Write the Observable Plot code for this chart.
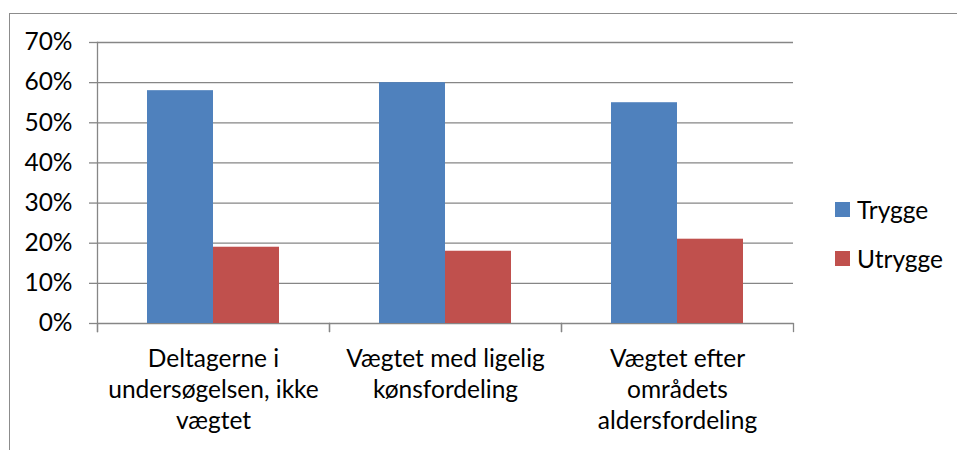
<!DOCTYPE html>
<html>
<head>
<meta charset="utf-8">
<script src="https://cdn.jsdelivr.net/npm/d3@7"></script>
<script src="https://cdn.jsdelivr.net/npm/@observablehq/plot@0.6"></script>
<style>
  html, body { margin: 0; padding: 0; background: #fff; }
  #wrap { position: relative; width: 957px; height: 450px; overflow: hidden; font-family: Lato, "Open Sans", sans-serif; }
  #border { position: absolute; left: 9px; top: 13px; width: 1000px; height: 500px; border-left: 1.5px solid #8c8c8c; border-top: 1.5px solid #8c8c8c; }
  #chart { position: absolute; left: 0; top: 0; }
  #legend { position: absolute; left: 835px; top: 199px; font-size: 24.5px; color: #000; }
  .item { display: flex; align-items: center; height: 20px; margin-bottom: 29px; }
  .sw { width: 15px; height: 15px; margin-right: 7px; flex: none; }
</style>
</head>
<body>
<div id="wrap">
  <div id="border"></div>
  <div id="chart"></div>
  <div id="legend"></div>
</div>
<script>
const categories = [
  "Deltagerne i\nundersøgelsen, ikke\nvægtet",
  "Vægtet med ligelig\nkønsfordeling",
  "Vægtet efter\nområdets\naldersfordeling"
];
const series = ["Trygge", "Utrygge"];
const trygge = [0.58, 0.60, 0.55];
const utrygge = [0.19, 0.18, 0.21];
const colors = ["#4F81BD", "#C0504D"];
const yTicks = [0, 0.1, 0.2, 0.3, 0.4, 0.5, 0.6, 0.7];

const data = [];
categories.forEach((c, i) => {
  data.push({category: c, series: series[0], value: trygge[i]});
  data.push({category: c, series: series[1], value: utrygge[i]});
});

const gray = "#868686";

const chart = Plot.plot({
  width: 957,
  height: 450,
  marginTop: 42,
  marginBottom: 127,
  marginLeft: 97,
  marginRight: 164,
  style: {fontFamily: "Lato, 'Open Sans', sans-serif", fontSize: "24.5px", color: "#000", background: "transparent", overflow: "visible"},
  fx: {domain: categories, padding: 0, axis: null},
  x: {domain: series, paddingInner: 0, paddingOuter: 0.7576, round: false, axis: null},
  y: {domain: [0, 0.7], axis: null},
  color: {domain: series, range: colors},
  marks: [
    Plot.gridY(yTicks, {stroke: gray, strokeOpacity: 1, strokeWidth: 1.3}),
    Plot.axisY(yTicks, {anchor: "left", tickSize: 8, tickPadding: 17, stroke: gray, strokeWidth: 1.3, fill: "#000",
      tickFormat: d => Math.round(d * 100) + "%", label: null}),
    Plot.barY(data, {fx: "category", x: "series", y: "value", fill: "series"}),
    Plot.frame({anchor: "left", facet: "super", insetBottom: -8, stroke: gray, strokeWidth: 1.3}),
    Plot.frame({anchor: "left", insetTop: 281, insetBottom: -8, stroke: gray, strokeWidth: 1.3}),
    Plot.frame({anchor: "right", insetTop: 281, insetBottom: -8, stroke: gray, strokeWidth: 1.3}),
    Plot.axisFx({anchor: "bottom", tickSize: 0, tickPadding: 22, lineHeight: 1.26, fill: "#000", label: null})
  ]
});
document.getElementById("chart").appendChild(chart);

const legend = document.getElementById("legend");
series.forEach((s, i) => {
  const item = document.createElement("div");
  item.className = "item";
  const sw = document.createElement("div");
  sw.className = "sw";
  sw.style.background = colors[i];
  const t = document.createElement("span");
  t.textContent = s;
  item.appendChild(sw);
  item.appendChild(t);
  legend.appendChild(item);
});
</script>
</body>
</html>
